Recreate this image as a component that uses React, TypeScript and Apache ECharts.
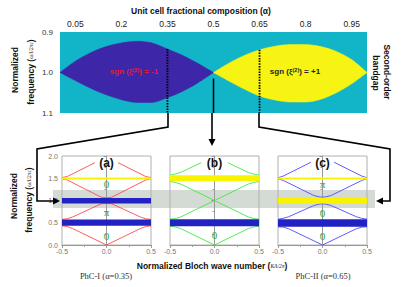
import React, { useEffect, useRef } from 'react';
import * as echarts from 'echarts';

// ---------- top map: second-order bandgap vs alpha ----------
const topTicks = [0.05, 0.2, 0.35, 0.5, 0.65, 0.8, 0.95];
const freqTopTicks = [0.9, 1.0, 1.1];
const gapCenter = 1.0;
const alphaBlue = [0, 0.05, 0.1, 0.15, 0.2, 0.25, 0.3, 0.35, 0.4, 0.45, 0.5];
const blueUpper = [1.0, 0.972, 0.951, 0.936, 0.927, 0.923, 0.927, 0.942, 0.958, 0.978, 1.0];
const blueLower = [1.0, 1.02, 1.039, 1.055, 1.067, 1.074, 1.074, 1.062, 1.046, 1.025, 1.0];
const alphaYellow = [0.5, 0.55, 0.6, 0.65, 0.7, 0.75, 0.8, 0.85, 0.9, 0.95, 1.0];
const yellowUpper = [1.0, 0.977, 0.958, 0.944, 0.935, 0.931, 0.931, 0.936, 0.948, 0.968, 1.0];
const yellowLower = [1.0, 1.021, 1.041, 1.058, 1.068, 1.073, 1.073, 1.066, 1.05, 1.028, 1.0];
const markedAlphas = [0.35, 0.65];

// ---------- band diagrams ----------
const kTicks = [-0.5, 0, 0.5];
const freqTicks = [0, 0.5, 1, 1.5, 2];

const phc1Bands = [
  [[-0.5, 0.43], [-0.44, 0.415], [-0.38, 0.37], [0, 0], [0.38, 0.37], [0.44, 0.415], [0.5, 0.43]],
  [[-0.5, 0.575], [-0.44, 0.59], [-0.38, 0.63], [-0.06, 0.925], [0, 0.935], [0.06, 0.925], [0.38, 0.63], [0.44, 0.59], [0.5, 0.575]],
  [[-0.5, 1.485], [-0.44, 1.46], [-0.06, 1.075], [0, 1.06], [0.06, 1.075], [0.44, 1.46], [0.5, 1.485]],
  [[-0.5, 1.515], [-0.44, 1.54], [-0.13, 1.85]],
  [[0.13, 1.85], [0.44, 1.54], [0.5, 1.515]],
];
const phc0Bands = [
  [[-0.5, 0.42], [-0.44, 0.405], [-0.38, 0.37], [0, 0], [0.38, 0.37], [0.44, 0.405], [0.5, 0.42]],
  [[-0.5, 0.58], [-0.44, 0.595], [-0.38, 0.63], [0, 1.0], [0.38, 0.63], [0.44, 0.595], [0.5, 0.58]],
  [[-0.5, 1.43], [-0.44, 1.405], [-0.38, 1.37], [0, 1.0], [0.38, 1.37], [0.44, 1.405], [0.5, 1.43]],
  [[-0.5, 1.57], [-0.44, 1.595], [-0.38, 1.63], [-0.15, 1.85]],
  [[0.15, 1.85], [0.38, 1.63], [0.44, 1.595], [0.5, 1.57]],
];
const phc2Bands = [
  [[-0.5, 0.41], [-0.44, 0.4], [-0.38, 0.365], [0, 0], [0.38, 0.365], [0.44, 0.4], [0.5, 0.41]],
  [[-0.5, 0.58], [-0.44, 0.6], [-0.38, 0.635], [-0.1, 0.885], [-0.04, 0.918], [0, 0.925], [0.04, 0.918], [0.1, 0.885], [0.38, 0.635], [0.44, 0.6], [0.5, 0.58]],
  [[-0.5, 1.49], [-0.44, 1.45], [-0.1, 1.115], [-0.04, 1.082], [0, 1.075], [0.04, 1.082], [0.1, 1.115], [0.44, 1.45], [0.5, 1.49]],
  [[-0.5, 1.51], [-0.44, 1.55], [-0.13, 1.86]],
  [[0.13, 1.86], [0.44, 1.55], [0.5, 1.51]],
];

// gaps: [lower edge, upper edge, sign of xi]
const phc1Gaps = [[0.43, 0.575, -1], [0.935, 1.055, -1], [1.485, 1.515, 1]];
const phc0Gaps = [[0.42, 0.58, -1], [1.43, 1.57, 1]];
const phc2Gaps = [[0.41, 0.58, -1], [0.935, 1.06, 1], [1.485, 1.515, 1]];

// Zak phase labels: [k, frequency, text]
const phc1Modes = [[0, 1.38, '0'], [0, 0.75, 'π'], [0, 0.2, '0']];
const phc0Modes = [[0, 0.22, '0']];
const phc2Modes = [[0, 1.38, 'π'], [0, 0.72, '0'], [0, 0.2, '0']];
const panelTags = ['(a)', '(b)', '(c)'];
const panelTagFreq = 1.85;

const TEAL = '#12B4C8';
const LENS_BLUE = '#3E26A8';
const LENS_YELLOW = '#F7F414';
const GAP_BLUE = '#2222C4';
const GAP_YELLOW = '#F8F400';
const lineColors = ['#FF4A4A', '#3FEA3F', '#4C4CFF'];
const GREEN = '#1FA84C';
const SANS = '"Liberation Sans", Arial, sans-serif';
const SERIF = '"Liberation Serif", "Times New Roman", serif';

export default function App() {
  const ref = useRef<HTMLDivElement>(null);
  useEffect(() => {
    document.body.style.margin = '0';
    if (!ref.current) return;
    const chart = echarts.init(ref.current, null, { renderer: 'svg' });

    const panelLefts = [62, 170, 278];
    const panelWidth = 89;
    const panelsBands = [phc1Bands, phc0Bands, phc2Bands];
    const panelsGaps = [phc1Gaps, phc0Gaps, phc2Gaps];
    const panelsModes = [phc1Modes, phc0Modes, phc2Modes];

    const grids: any[] = [
      { left: 60, top: 32, width: 307, height: 81, show: true, backgroundColor: TEAL, borderWidth: 0 },
    ];
    const xAxes: any[] = [
      {
        gridIndex: 0, type: 'value', min: 0, max: 1, interval: 0.05, position: 'top',
        axisLine: { show: false }, axisTick: { show: false }, splitLine: { show: false },
        axisLabel: {
          margin: 4, fontSize: 8.5, color: '#222', fontFamily: SANS,
          formatter: (v: number) => {
            const t = topTicks.find((x) => Math.abs(x - v) < 1e-6);
            return t === undefined ? '' : String(t);
          },
        },
      },
    ];
    const yAxes: any[] = [
      {
        gridIndex: 0, type: 'value', min: 0.9, max: 1.1, interval: 0.1, inverse: true,
        axisLine: { show: false }, axisTick: { show: false }, splitLine: { show: false },
        axisLabel: {
          margin: 7, fontSize: 8, color: '#333', fontFamily: SANS,
          formatter: (v: number) => {
            const t = freqTopTicks.find((x) => Math.abs(x - v) < 1e-6);
            return t === undefined ? '' : t.toFixed(1);
          },
        },
      },
    ];

    panelLefts.forEach((left, i) => {
      grids.push({ left, top: 156, width: panelWidth, height: 89, show: true, borderColor: '#b0b0b0', borderWidth: 1, backgroundColor: 'transparent' });
      xAxes.push({
        gridIndex: i + 1, type: 'value', min: -0.5, max: 0.5, interval: 0.5,
        axisLine: { show: true, lineStyle: { color: '#999', width: 1 } },
        axisTick: { show: true, length: 3, lineStyle: { color: '#999' } },
        minorTick: { show: true, splitNumber: 2, length: 2, lineStyle: { color: '#999' } },
        splitLine: { show: false },
        axisLabel: {
          margin: 3, fontSize: 7, color: '#777', fontFamily: SANS,
          formatter: (v: number) => {
            const t = kTicks.find((x) => Math.abs(x - v) < 1e-6);
            return t === undefined ? '' : t.toFixed(1);
          },
        },
      });
      yAxes.push({
        gridIndex: i + 1, type: 'value', min: 0, max: 2, interval: 0.5,
        axisLine: { show: true, lineStyle: { color: '#999', width: 1 } },
        axisTick: { show: true, length: 3, lineStyle: { color: '#999' } },
        minorTick: { show: true, splitNumber: 2, length: 2, lineStyle: { color: '#999' } },
        splitLine: { show: false },
        axisLabel: {
          show: i === 0, margin: 4, fontSize: 7, color: '#777', fontFamily: SANS,
          formatter: (v: number) => {
            const t = freqTicks.find((x) => Math.abs(x - v) < 1e-6);
            return t === undefined ? '' : t.toFixed(1);
          },
        },
      });
    });

    const series: any[] = [];
    // lenses: each edge is filled towards the mid-gap frequency
    const lensEdge = (alphas: number[], edge: number[], color: string, origin: number) => {
      series.push({
        type: 'line', xAxisIndex: 0, yAxisIndex: 0, symbol: 'none', smooth: 0.3, z: 2,
        lineStyle: { width: 0.5, color }, areaStyle: { color, opacity: 1, origin },
        data: alphas.map((a, i) => [a, edge[i]]),
      });
    };
    lensEdge(alphaBlue, blueUpper, LENS_BLUE, gapCenter + 0.001);
    lensEdge(alphaBlue, blueLower, LENS_BLUE, gapCenter - 0.001);
    lensEdge(alphaYellow, yellowUpper, LENS_YELLOW, gapCenter + 0.001);
    lensEdge(alphaYellow, yellowLower, LENS_YELLOW, gapCenter - 0.001);

    // dotted markers at alpha 0.35 and 0.65, solid at 0.5
    const startFreqs = [blueUpper[alphaBlue.indexOf(0.35)], yellowUpper[alphaYellow.indexOf(0.65)]];
    markedAlphas.forEach((a, i) => {
      series.push({
        type: 'line', xAxisIndex: 0, yAxisIndex: 0, symbol: 'none', z: 5,
        lineStyle: { color: '#000', width: 1.8, type: [1.5, 1.2] },
        data: [[a, startFreqs[i]], [a, 1.1]],
      });
    });
    series.push({
      type: 'line', xAxisIndex: 0, yAxisIndex: 0, symbol: 'none', z: 5,
      lineStyle: { color: '#000', width: 1.5 }, data: [[0.5, 1.015], [0.5, 1.1]],
    });

    // band panels
    panelsBands.forEach((bands, p) => {
      bands.forEach((band) => {
        series.push({
          type: 'line', xAxisIndex: p + 1, yAxisIndex: p + 1, symbol: 'none', z: 3,
          lineStyle: { color: lineColors[p], width: 0.9 }, data: band,
        });
      });
      const gaps = panelsGaps[p];
      series.push({
        type: 'custom', xAxisIndex: p + 1, yAxisIndex: p + 1, z: 4,
        data: gaps.map((g) => [g[0], g[1]]),
        renderItem: (params: any, api: any) => {
          const g = gaps[params.dataIndex];
          const p1 = api.coord([-0.5, g[1]]);
          const p2 = api.coord([0.5, g[0]]);
          return {
            type: 'rect',
            shape: { x: p1[0], y: p1[1], width: p2[0] - p1[0], height: Math.max(2, p2[1] - p1[1]) },
            style: { fill: g[2] > 0 ? GAP_YELLOW : GAP_BLUE },
          };
        },
      });
      const modes = panelsModes[p];
      series.push({
        type: 'custom', xAxisIndex: p + 1, yAxisIndex: p + 1, z: 6,
        data: modes.map((m) => [m[0], m[1]]),
        renderItem: (params: any, api: any) => {
          const m = modes[params.dataIndex];
          const c = api.coord([m[0], m[1]]);
          return {
            type: 'text', x: c[0], y: c[1],
            style: {
              text: String(m[2]), fill: GREEN, stroke: 'none', lineWidth: 0, font: `11px ${SERIF}`,
              align: 'center', verticalAlign: 'middle', textAlign: 'center', textVerticalAlign: 'middle',
            },
          };
        },
      });
      series.push({
        type: 'custom', xAxisIndex: p + 1, yAxisIndex: p + 1, z: 6,
        data: [[0, panelTagFreq]],
        renderItem: (params: any, api: any) => {
          const c = api.coord([0, panelTagFreq]);
          return {
            type: 'text', x: c[0], y: c[1],
            style: {
              text: panelTags[p], fill: '#111', stroke: 'none', lineWidth: 0, font: `bold 12px ${SANS}`,
              align: 'center', verticalAlign: 'middle', textAlign: 'center', textVerticalAlign: 'middle',
            },
          };
        },
      });
    });

    const txt = (x: number, y: number, text: string, font: string, fill = '#111', rotation = 0, extra: any = {}) => ({
      type: 'text', x, y, rotation, z: 20,
      style: { text, font, fill, align: 'center', verticalAlign: 'middle', textAlign: 'center', textVerticalAlign: 'middle', ...extra },
    });
    const richFreq = {
      a: { fontSize: 8.5, fontWeight: 'bold', fontFamily: SANS, fill: '#111', color: '#111' },
      f: { fontSize: 5.5, fontStyle: 'italic', fontFamily: SERIF, fill: '#111', color: '#111' },
    };
    const graphic: any[] = [
      // gray highlight band across the panels
      { type: 'rect', z: -1, shape: { x: 53, y: 190, width: 322, height: 18 }, style: { fill: '#D4DBD4' } },
      txt(201, 11, 'Unit cell fractional composition (α)', `bold 8.5px ${SANS}`),
      txt(15, 70, 'Normalized', `bold 8.5px ${SANS}`, '#111', Math.PI / 2),
      txt(31, 72, '{a|frequency (}{f|ωΛ/2πc}{a|)}', `bold 8.5px ${SANS}`, '#111', Math.PI / 2, { rich: richFreq }),
      txt(387, 72, 'Second-order', `bold 8.5px ${SANS}`, '#111', -Math.PI / 2),
      txt(376, 73, 'bandgap', `bold 8.5px ${SANS}`, '#111', -Math.PI / 2),
      txt(134, 71, '{r|sgn (ξ}{s|(2)}{r|) = -1}', `bold 8px ${SANS}`, '#E3202A', 0, {
        rich: {
          r: { fontSize: 8, fontWeight: 'bold', fontFamily: SANS, fill: '#E3202A', color: '#E3202A' },
          s: { fontSize: 5.5, fontWeight: 'bold', fontFamily: SANS, fill: '#E3202A', color: '#E3202A', verticalAlign: 'top' },
        },
      }),
      txt(295, 71, '{r|sgn (ξ}{s|(2)}{r|) = +1}', `bold 8px ${SANS}`, '#222', 0, {
        rich: {
          r: { fontSize: 8, fontWeight: 'bold', fontFamily: SANS, fill: '#222', color: '#222' },
          s: { fontSize: 5.5, fontWeight: 'bold', fontFamily: SANS, fill: '#222', color: '#222', verticalAlign: 'top' },
        },
      }),
      txt(14, 196, 'Normalized', `bold 8.5px ${SANS}`, '#111', Math.PI / 2),
      txt(29, 200, '{a|frequency (}{f|ωΛ/2πc}{a|)}', `bold 8.5px ${SANS}`, '#111', Math.PI / 2, { rich: richFreq }),
      txt(212, 266, '{a|Normalized Bloch wave number (}{f|KΛ/2π}{a|)}', `bold 8.5px ${SANS}`, '#111', 0, { rich: richFreq }),
      txt(106, 276, 'PhC-I (α=0.35)', `8.5px ${SERIF}`, '#333'),
      txt(323, 276, 'PhC-II (α=0.65)', `8.5px ${SERIF}`, '#333'),
      // connectors
      { type: 'polyline', z: 20, shape: { points: [[168, 113], [168, 127], [37, 149], [37, 201], [54, 201]] }, style: { stroke: '#000', lineWidth: 1.6, fill: 'none' } },
      { type: 'polygon', z: 20, shape: { points: [[60, 201], [53, 197.5], [53, 204.5]] }, style: { fill: '#000' } },
      { type: 'line', z: 20, shape: { x1: 212, y1: 113, x2: 212, y2: 140 }, style: { stroke: '#000', lineWidth: 1.6 } },
      { type: 'polygon', z: 20, shape: { points: [[212, 146], [208.5, 139], [215.5, 139]] }, style: { fill: '#000' } },
      { type: 'polyline', z: 20, shape: { points: [[259, 113], [259, 127], [390, 149], [390, 201], [382, 201]] }, style: { stroke: '#000', lineWidth: 1.6, fill: 'none' } },
      { type: 'polygon', z: 20, shape: { points: [[376, 201], [383, 197.5], [383, 204.5]] }, style: { fill: '#000' } },
    ];

    chart.setOption({
      animation: false,
      backgroundColor: '#fff',
      grid: grids,
      xAxis: xAxes,
      yAxis: yAxes,
      series,
      graphic,
    });
    return () => chart.dispose();
  }, []);
  return <div ref={ref} style={{ width: 415, height: 287 }} />;
}
